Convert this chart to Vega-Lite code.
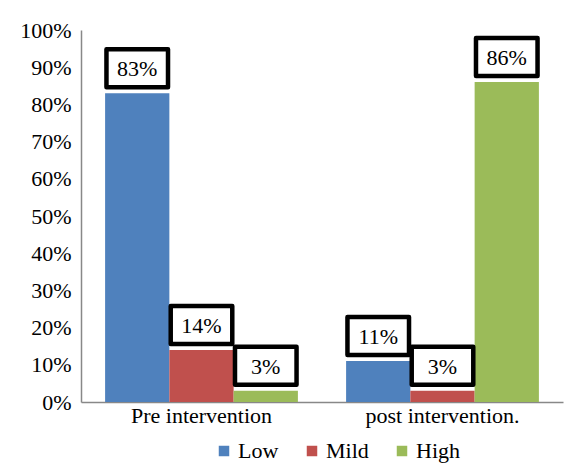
{
  "$schema": "https://vega.github.io/schema/vega-lite/v6.json",
  "width": 482,
  "height": 372,
  "autosize": {"type": "none"},
  "padding": {"left": 81, "top": 30, "right": 5, "bottom": 66},
  "background": "white",
  "config": {
    "view": {"stroke": null},
    "font": "Liberation Serif, Times New Roman, serif",
    "text": {"font": "Liberation Serif, Times New Roman, serif"},
    "axis": {"labelFont": "Liberation Serif, Times New Roman, serif", "labelColor": "black", "labelFontSize": 22, "domainColor": "#888888", "domainWidth": 1.5, "ticks": false, "grid": false, "title": null},
    "legend": {"labelFont": "Liberation Serif, Times New Roman, serif", "labelFontSize": 22, "labelColor": "black"}
  },
  "data": {
    "values": [
      {"group": "Pre intervention", "level": "Low", "value": 0.83, "label": "83%"},
      {"group": "Pre intervention", "level": "Mild", "value": 0.14, "label": "14%"},
      {"group": "Pre intervention", "level": "High", "value": 0.03, "label": "3%"},
      {"group": "post intervention.", "level": "Low", "value": 0.11, "label": "11%"},
      {"group": "post intervention.", "level": "Mild", "value": 0.03, "label": "3%"},
      {"group": "post intervention.", "level": "High", "value": 0.86, "label": "86%"}
    ]
  },
  "encoding": {
    "x": {"field": "group", "type": "nominal", "sort": null, "scale": {"paddingInner": 0.2, "paddingOuter": 0.1}, "axis": {"labelAngle": 0, "labelPadding": 3}},
    "xOffset": {"field": "level", "type": "nominal", "sort": ["Low", "Mild", "High"], "scale": {"paddingInner": 0, "paddingOuter": 0}},
    "y": {"field": "value", "type": "quantitative", "scale": {"domain": [0, 1], "nice": false}, "axis": {"format": ".0%", "values": [0, 0.1, 0.2, 0.3, 0.4, 0.5, 0.6, 0.7, 0.8, 0.9, 1], "labelPadding": 10}}
  },
  "layer": [
    {
      "mark": {"type": "bar"},
      "encoding": {
        "color": {"field": "level", "type": "nominal", "sort": ["Low", "Mild", "High"], "scale": {"domain": ["Low", "Mild", "High"], "range": ["#4F81BD", "#C0504D", "#9BBB59"]}, "legend": {"title": null, "orient": "none", "legendX": 132, "legendY": 410, "direction": "horizontal", "symbolType": "square", "symbolSize": 110, "symbolStrokeWidth": 0, "columnPadding": 22, "labelOffset": 3, "labelFont": "Liberation Serif, Times New Roman, serif", "labelFontSize": 22}}
      }
    },
    {
      "mark": {"type": "point", "shape": "M-1.62,-1H1.62V1H-1.62Z", "size": 1444, "filled": false, "fill": "white", "fillOpacity": 1, "stroke": "black", "strokeWidth": 4.5, "strokeJoin": "round", "opacity": 1, "yOffset": -25}
    },
    {
      "mark": {"type": "text", "fontSize": 22, "font": "Liberation Serif, Times New Roman, serif", "color": "black", "baseline": "middle", "yOffset": -24},
      "encoding": {"text": {"field": "label"}}
    }
  ]
}
